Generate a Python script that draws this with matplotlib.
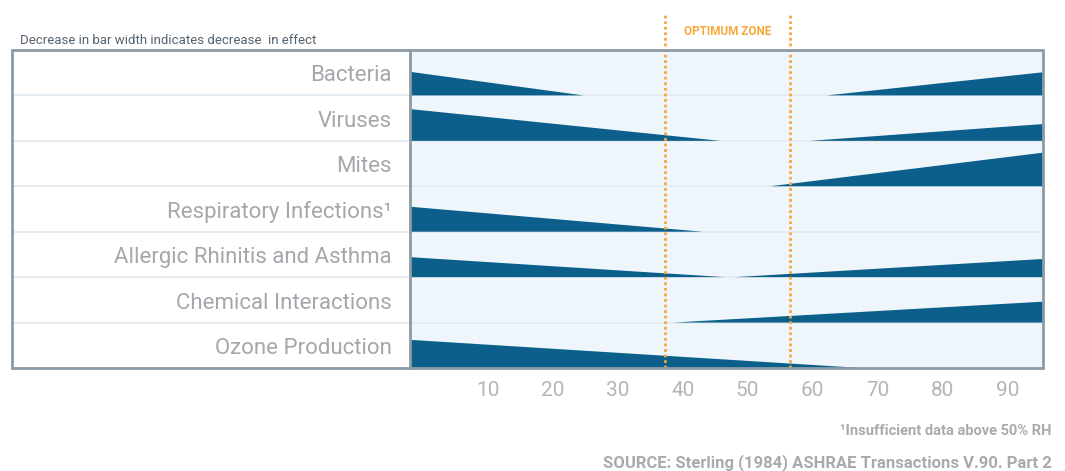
import matplotlib
matplotlib.use("Agg")
import matplotlib.pyplot as plt
from matplotlib.patches import Polygon, Rectangle
import matplotlib.transforms as mtransforms

plt.rcParams["font.family"] = ["Roboto", "DejaVu Sans"]

# effects, top to bottom
effects = [
    "Bacteria",
    "Viruses",
    "Mites",
    "Respiratory Infections\u00b9",
    "Allergic Rhinitis and Asthma",
    "Chemical Interactions",
    "Ozone Production",
]
# left wedge: relative height at the low-RH edge, RH where it vanishes (None = no wedge)
left_height = [0.52, 0.70, None, 0.55, 0.44, None, 0.62]
left_end = [24.7, 45.8, None, 43.1, 46.5, None, 67.5]
# right wedge: RH where it starts, relative height at the high-RH edge
right_start = [62.2, 59.6, 53.5, None, 48.0, 38.5, None]
right_height = [0.51, 0.37, 0.74, None, 0.40, 0.46, None]

rh_ticks = [10, 20, 30, 40, 50, 60, 70, 80, 90]
rh_min, rh_max = -2.0, 95.5
optimum_zone = [37.3, 56.5]

wedge_color = "#0b5f8a"
bg_color = "#eef6fb"
orange = "#f5a93b"

fig = plt.figure(figsize=(10.65, 4.71), dpi=100)
ax = fig.add_axes([410 / 1065, 1 - 368 / 471, 633 / 1065, 318 / 471])
ax.set_xlim(rh_min, rh_max)
ax.set_ylim(0, len(effects))
ax.set_facecolor(bg_color)

n = len(effects)
blend = mtransforms.blended_transform_factory(ax.transAxes, ax.transData)
label_left = (12 - 410) / 633

# white label column
ax.add_patch(Rectangle((label_left, 0), -label_left, n, transform=blend,
                       facecolor="white", edgecolor="none", clip_on=False, zorder=0))

for i, name in enumerate(effects):
    base = n - 1 - i
    if i > 0:
        ax.plot([label_left, 1], [base + 1, base + 1], transform=blend,
                color="#e2eaf0", lw=1.2, clip_on=False, zorder=1)
    if left_height[i] is not None:
        ax.add_patch(Polygon([(rh_min, base), (rh_min, base + left_height[i]), (left_end[i], base)],
                             closed=True, facecolor=wedge_color, edgecolor="none", zorder=2))
    if right_height[i] is not None:
        ax.add_patch(Polygon([(right_start[i], base), (rh_max, base + right_height[i]), (rh_max, base)],
                             closed=True, facecolor=wedge_color, edgecolor="none", zorder=2))
    ax.text(-18 / 633, base + 0.43, name, transform=blend, ha="right", va="center",
            fontsize=16, color="#a4a8ac", clip_on=False)

# optimum zone
for x in optimum_zone:
    ax.plot([x, x], [0, n + 0.8], color=orange, lw=2, ls=(0, (1.0, 1.0)),
            clip_on=False, zorder=3)
ax.text(sum(optimum_zone) / 2, n + 0.4, "OPTIMUM ZONE", ha="center", va="center",
        fontsize=8.5, color=orange, fontweight="bold")

# outer frame
ax.add_patch(Rectangle((label_left, 0), 1 - label_left, n, transform=blend,
                       facecolor="none", edgecolor="#8c9ba6", lw=2, clip_on=False, zorder=4))
ax.plot([0, 0], [0, n], transform=blend, color="#8c9ba6", lw=2, clip_on=False, zorder=4)

for s in ax.spines.values():
    s.set_visible(False)
ax.set_yticks([])
ax.set_xticks(rh_ticks)
ax.set_xticklabels([str(t) for t in rh_ticks])
ax.tick_params(axis="x", length=0, pad=9, labelsize=15, labelcolor="#b2b6ba")

fig.text(20 / 1065, 1 - 40 / 471, "Decrease in bar width indicates decrease  in effect",
         fontsize=9.5, color="#55636f", va="center")
fig.text(1052 / 1065, 1 - 431 / 471, "\u00b9Insufficient data above 50% RH",
         fontsize=10.5, color="#a8abae", fontweight="bold", ha="right", va="center")
fig.text(1052 / 1065, 1 - 463 / 471, "SOURCE: Sterling (1984) ASHRAE Transactions V.90. Part 2",
         fontsize=12, color="#a8abae", fontweight="bold", ha="right", va="center")

fig.savefig("out.png", dpi=100, facecolor="white")
